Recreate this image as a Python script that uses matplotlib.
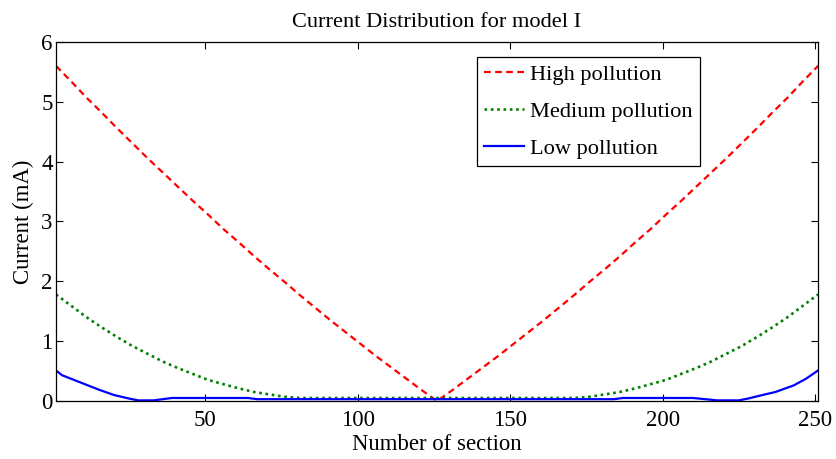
import numpy as np
import matplotlib
matplotlib.use("Agg")
import matplotlib.pyplot as plt

plt.rcParams['font.family'] = ['Liberation Serif', 'DejaVu Serif']

# section numbers (every 5 sections, 1..251)
sections = list(range(1, 252, 5))

# high pollution, left half down to the middle section (126)
high_left = [5.60, 5.34, 5.07, 4.82, 4.56, 4.31, 4.06, 3.82, 3.58, 3.34,
             3.11, 2.87, 2.65, 2.42, 2.20, 1.99, 1.77, 1.56, 1.35, 1.15,
             0.95, 0.75, 0.56, 0.37, 0.18, 0.00]
high = high_left + high_left[-2::-1]

medium_left = [1.78, 1.59, 1.40, 1.23, 1.07, 0.92, 0.79, 0.66, 0.55, 0.45,
               0.35, 0.28, 0.21, 0.15, 0.11, 0.07, 0.05, 0.05, 0.05, 0.05,
               0.05, 0.05, 0.05, 0.05, 0.05, 0.05]
medium = medium_left + medium_left[-2::-1]

low_sections = [1, 3, 5, 10, 15, 20, 25, 28, 33, 36, 39, 64, 67, 184, 187,
                210, 214, 218, 225, 228, 232, 237, 243, 247, 249, 251]
low = [0.51, 0.43, 0.39, 0.29, 0.19, 0.10, 0.04, 0.01, 0.01, 0.03, 0.05,
       0.05, 0.03, 0.03, 0.05, 0.05, 0.03, 0.01, 0.01, 0.04, 0.09, 0.15,
       0.26, 0.37, 0.44, 0.51]

fig = plt.figure(figsize=(8.36, 4.59), dpi=100)
ax = fig.add_axes([0.067, 0.1264, 0.9115, 0.7821])

ax.plot(sections, high, color='red', linestyle=(0, (3, 2)), linewidth=1.6,
        label='High pollution')
ax.plot(sections, medium, color='#008000', linestyle=(0, (1, 1.4)), linewidth=1.9,
        label='Medium pollution')
ax.plot(low_sections, low, color='blue', linestyle='-', linewidth=1.6,
        label='Low pollution')

ax.set_xlim(1, 251)
ax.set_ylim(0, 6)
ax.set_xticks([50, 100, 150, 200, 250])
ax.set_yticks(range(0, 7))
ax.tick_params(direction='in', length=5, width=0.8, top=True, right=True,
               labelsize=16.5)
ax.tick_params(axis='x', pad=6.5)
ax.tick_params(axis='y', pad=2.5)
for s in ax.spines.values():
    s.set_linewidth(0.9)

ax.set_title('Current Distribution for model I', fontsize=16.1, pad=11)
ax.set_xlabel('Number of section', fontsize=16.4, labelpad=2)
ax.set_ylabel('Current (mA)', fontsize=16.4, labelpad=5)

leg = ax.legend(loc='upper left', bbox_to_anchor=(0.552, 0.957),
                borderaxespad=0, fontsize=16.1, handlelength=1.8,
                handletextpad=0.28, labelspacing=0.72, borderpad=0.32,
                fancybox=False, framealpha=1)
leg.get_frame().set_edgecolor('black')
leg.get_frame().set_linewidth(0.9)

fig.savefig('out.png', dpi=100)
